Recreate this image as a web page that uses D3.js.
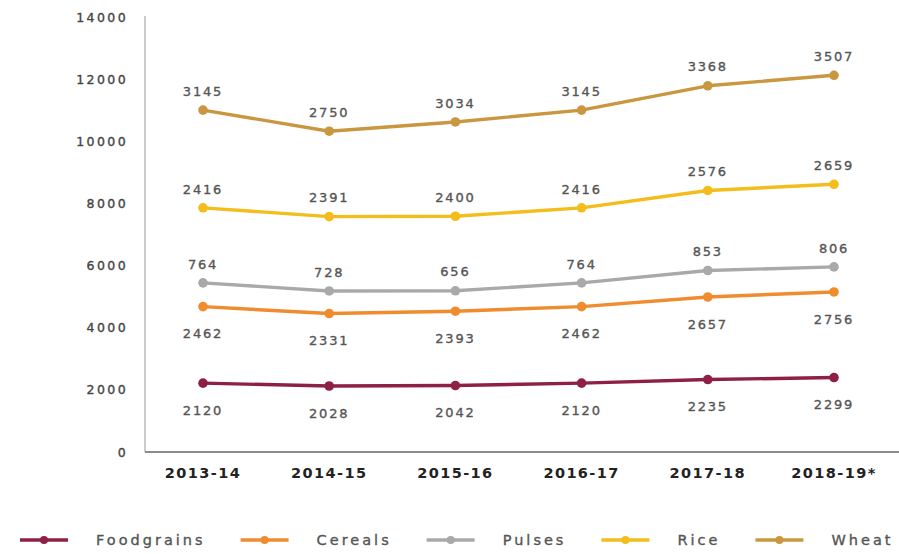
<!DOCTYPE html>
<html>
<head>
<meta charset="utf-8">
<script src="https://cdn.jsdelivr.net/npm/d3@7"></script>
<style>
  html, body { margin: 0; padding: 0; background: #fff; }
  svg { display: block; }
</style>
</head>
<body>
<svg id="chart" width="899" height="554"></svg>
<script>
// Production by year (stacked lines: each series sits on top of the previous one)
const years = ["2013-14", "2014-15", "2015-16", "2016-17", "2017-18", "2018-19*"];
const foodgrains = [2120, 2028, 2042, 2120, 2235, 2299];
const cereals    = [2462, 2331, 2393, 2462, 2657, 2756];
const pulses     = [764, 728, 656, 764, 853, 806];
const rice       = [2416, 2391, 2400, 2416, 2576, 2659];
const wheat      = [3145, 2750, 3034, 3145, 3368, 3507];
const yTicks = [0, 2000, 4000, 6000, 8000, 10000, 12000, 14000];

const seriesNames  = ["Foodgrains", "Cereals", "Pulses", "Rice", "Wheat"];
const seriesValues = [foodgrains, cereals, pulses, rice, wheat];
const seriesColors = ["#8e1f47", "#f08c2e", "#a9a9a9", "#f3bd1c", "#c9973f"];
const labelBelow   = [true, true, false, false, false];

const svg = d3.select("#chart");
const font = "'DejaVu Sans', sans-serif";

const x = d3.scalePoint().domain(years).range([203, 834]);
const y = d3.scaleLinear().domain([0, 14000]).range([449, 14]);

// Build cumulative stack
const table = years.map((yr, i) => {
  const row = { year: yr };
  seriesNames.forEach((n, s) => row[n] = seriesValues[s][i]);
  return row;
});
const stacked = d3.stack().keys(seriesNames)(table);

// Axis lines
svg.append("line")
  .attr("x1", 145).attr("x2", 145).attr("y1", 16).attr("y2", 452)
  .attr("stroke", "#aaa").attr("stroke-width", 1.2);
svg.append("line")
  .attr("x1", 145).attr("x2", 899).attr("y1", 452).attr("y2", 452)
  .attr("stroke", "#666").attr("stroke-width", 1.6);

// Medium-weight text: fill plus a hairline stroke of the same colour
function medium(sel, color) {
  return sel.attr("fill", color).attr("stroke", color)
    .attr("stroke-width", 0.35).attr("paint-order", "stroke");
}

// Y tick labels
medium(svg.append("g").selectAll("text").data(yTicks).join("text")
  .attr("x", 128)
  .attr("y", d => y(d) + 3)
  .attr("dy", "0.36em")
  .attr("text-anchor", "end")
  .attr("font-family", font)
  .attr("font-size", 12.5)
  .attr("letter-spacing", 2.4)
  .text(d => d), "#444");

// X tick labels
svg.append("g").selectAll("text").data(years).join("text")
  .attr("x", d => x(d))
  .attr("y", 473)
  .attr("dy", "0.36em")
  .attr("text-anchor", "middle")
  .attr("font-family", font)
  .attr("font-weight", "bold")
  .attr("font-size", 14.5)
  .attr("letter-spacing", 1.4)
  .attr("fill", "#222")
  .text(d => d);

const line = d3.line()
  .x(d => x(d.data.year))
  .y(d => y(d[1]));

stacked.forEach((layer, s) => {
  const g = svg.append("g");
  g.append("path")
    .datum(layer)
    .attr("fill", "none")
    .attr("stroke", seriesColors[s])
    .attr("stroke-width", 3.4)
    .attr("stroke-linejoin", "round")
    .attr("d", line);
  g.selectAll("circle").data(layer).join("circle")
    .attr("cx", d => x(d.data.year))
    .attr("cy", d => y(d[1]))
    .attr("r", 4.8)
    .attr("fill", seriesColors[s]);
  medium(g.selectAll("text").data(layer).join("text")
    .attr("x", d => x(d.data.year))
    .attr("y", d => y(d[1]) + (labelBelow[s] ? 27 : -19))
    .attr("dy", "0.36em")
    .attr("text-anchor", "middle")
    .attr("font-family", font)
    .attr("font-size", 13)
    .attr("letter-spacing", 1.8)
    .text(d => d.data[seriesNames[s]]), "#555");
});

// Legend
const legend = svg.append("g");
let lx = 20;
const ly = 540;
seriesNames.forEach((n, s) => {
  const item = legend.append("g");
  item.append("line")
    .attr("x1", lx).attr("x2", lx + 48).attr("y1", ly).attr("y2", ly)
    .attr("stroke", seriesColors[s]).attr("stroke-width", 3.4);
  item.append("circle")
    .attr("cx", lx + 24).attr("cy", ly).attr("r", 4)
    .attr("fill", seriesColors[s]);
  const t = medium(item.append("text")
    .attr("x", lx + 76)
    .attr("y", ly)
    .attr("dy", "0.36em")
    .attr("font-family", font)
    .attr("font-size", 14.5)
    .attr("letter-spacing", 3)
    .text(n), "#555");
  lx += 76 + t.node().getComputedTextLength() + 35;
});
</script>
</body>
</html>
